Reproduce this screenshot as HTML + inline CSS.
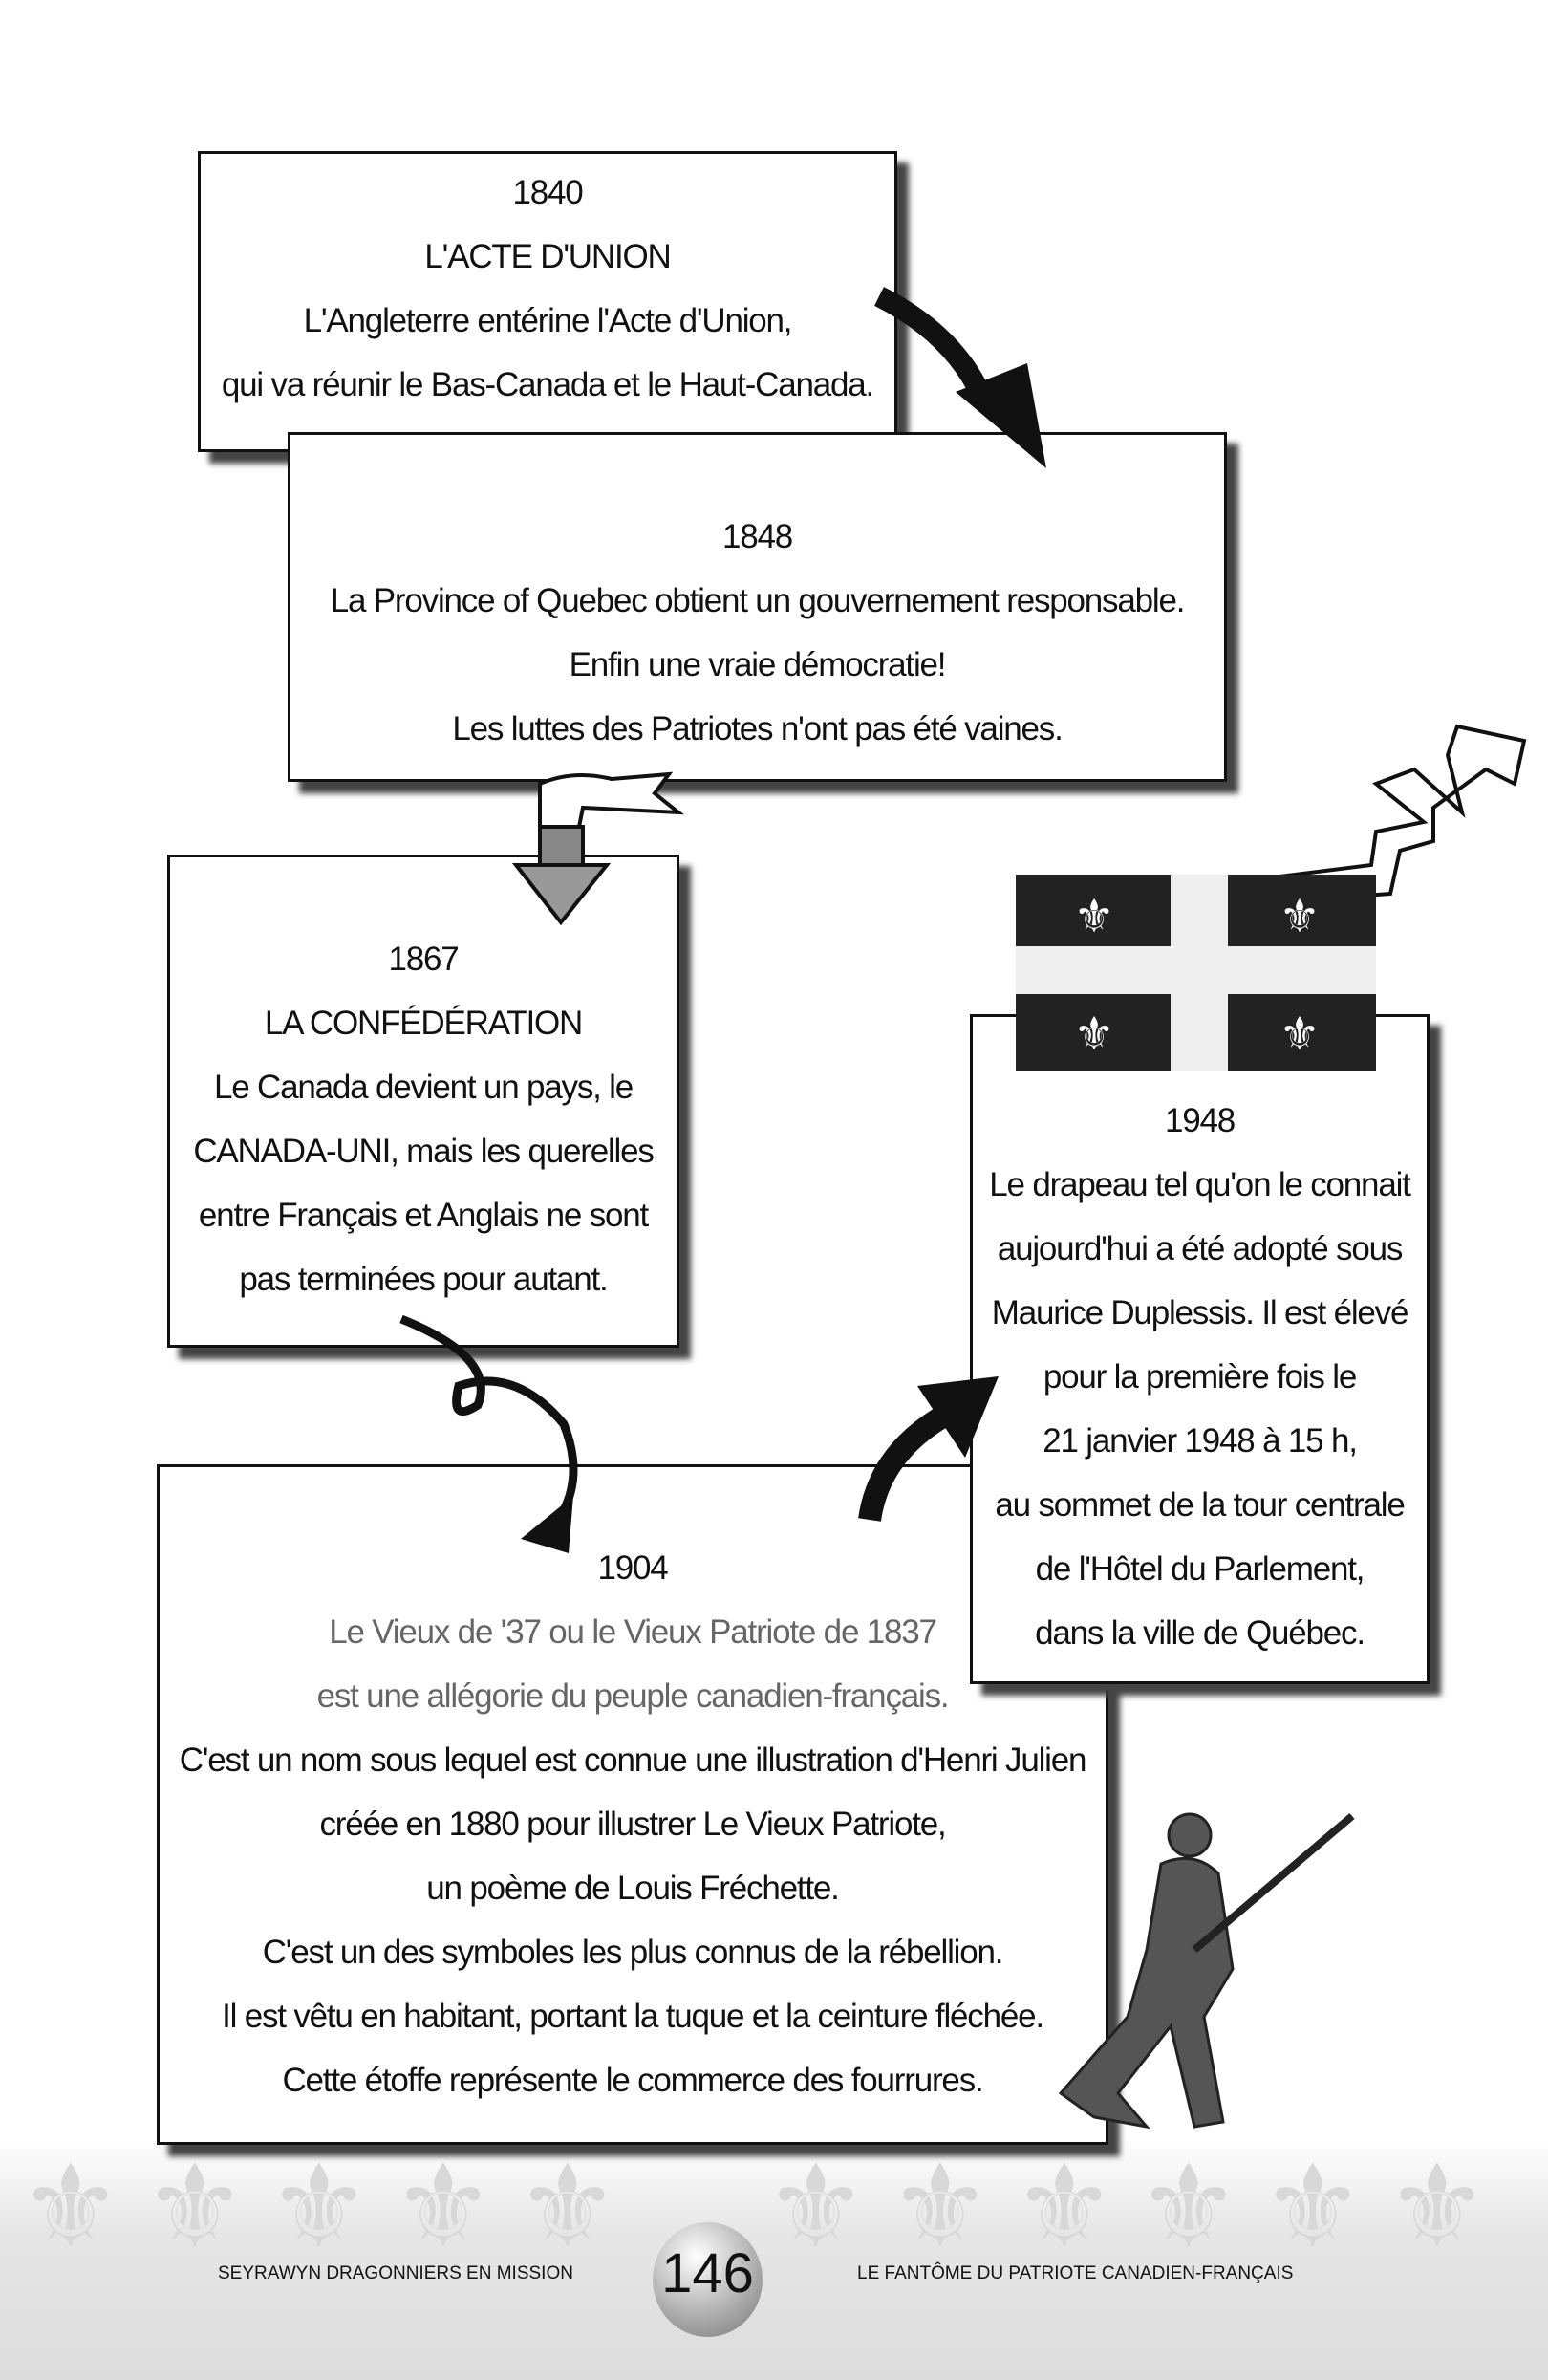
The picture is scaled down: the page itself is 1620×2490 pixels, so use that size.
<!DOCTYPE html>
<html><head><meta charset="utf-8"><style>
body{margin:0;width:1620px;height:2490px;background:#fff;position:relative;overflow:hidden;font-family:"Liberation Sans","DejaVu Sans",sans-serif;}
.box{position:absolute;background:#fff;border:3px solid #111;box-shadow:12px 12px 6px #444;text-align:center;color:#111;font-size:35px;line-height:67px;letter-spacing:-1.2px;box-sizing:border-box;}
.box div{white-space:nowrap}
.g{color:#666}
.foot{position:absolute;left:0;top:2235px;width:1620px;height:255px;background:linear-gradient(#fff,#e6e6e6 40%,#dcdcdc);}
.fl{position:absolute;top:2240px;font-size:120px;color:#d8d8d8;font-family:"DejaVu Sans",sans-serif;}
</style></head><body>
<div class="foot"></div>
<div class="fl" style="left:20px">⚜</div><div class="fl" style="left:150px">⚜</div><div class="fl" style="left:280px">⚜</div><div class="fl" style="left:410px">⚜</div><div class="fl" style="left:540px">⚜</div><div class="fl" style="left:800px">⚜</div><div class="fl" style="left:930px">⚜</div><div class="fl" style="left:1060px">⚜</div><div class="fl" style="left:1190px">⚜</div><div class="fl" style="left:1320px">⚜</div><div class="fl" style="left:1450px">⚜</div>
<div style="position:absolute;left:228px;top:2368px;font-size:19px;color:#111">SEYRAWYN DRAGONNIERS EN MISSION</div>
<div style="position:absolute;left:897px;top:2368px;font-size:19px;color:#111">LE FANTÔME DU PATRIOTE CANADIEN-FRANÇAIS</div>
<div style="position:absolute;left:683px;top:2325px;width:115px;height:120px;border-radius:50%;background:radial-gradient(circle at 40% 30%,#fff,#aaa 60%,#777);"></div>
<div style="position:absolute;left:683px;top:2345px;width:115px;text-align:center;font-size:58px;color:#111">146</div>

<div class="box" style="left:207px;top:158px;width:732px;height:315px;padding-top:7px">
<div>1840</div><div>L'ACTE D'UNION</div><div>L'Angleterre entérine l'Acte d'Union,</div><div>qui va réunir le Bas-Canada et le Haut-Canada.</div></div>
<div class="box" style="left:301px;top:452px;width:983px;height:366px;padding-top:73px">
<div>1848</div><div>La Province of Quebec obtient un gouvernement responsable.</div><div>Enfin une vraie démocratie!</div><div>Les luttes des Patriotes n'ont pas été vaines.</div></div>
<div class="box" style="left:175px;top:894px;width:536px;height:516px;padding-top:73px">
<div>1867</div><div>LA CONFÉDÉRATION</div><div>Le Canada devient un pays, le</div><div>CANADA-UNI, mais les querelles</div><div>entre Français et Anglais ne sont</div><div>pas terminées pour autant.</div></div>
<div class="box" style="left:164px;top:1532px;width:996px;height:712px;padding-top:72px">
<div>1904</div><div class="g">Le Vieux de '37 ou le Vieux Patriote de 1837</div><div class="g">est une allégorie du peuple canadien-français.</div><div>C'est un nom sous lequel est connue une illustration d'Henri Julien</div><div>créée en 1880 pour illustrer Le Vieux Patriote,</div><div>un poème de Louis Fréchette.</div><div>C'est un  des symboles les plus connus de la rébellion.</div><div>Il est vêtu en habitant, portant la tuque et la ceinture fléchée.</div><div>Cette étoffe représente le commerce des fourrures.</div></div>
<div class="box" style="left:1015px;top:1061px;width:481px;height:701px;padding-top:75px">
<div>1948</div><div>Le drapeau tel qu'on le connait</div><div>aujourd'hui a été adopté sous</div><div>Maurice Duplessis. Il est élevé</div><div>pour la première fois le</div><div>21 janvier 1948 à 15 h,</div><div>au sommet de la tour centrale</div><div>de l'Hôtel du Parlement,</div><div>dans la ville de Québec.</div></div>

<svg style="position:absolute;left:0;top:0" width="1620" height="2490">
<path d="M920 310 Q1000 350 1030 420" stroke="#111" stroke-width="22" fill="none"/>
<polygon points="1000,410 1095,490 1075,380" fill="#111"/>
<path d="M565 870 L565 820 Q600 805 640 815 L700 810 L685 830 L710 850 L610 845 L605 870 Z" fill="#fff" stroke="#111" stroke-width="4"/>
<rect x="565" y="865" width="45" height="45" fill="#888" stroke="#111" stroke-width="4"/>
<polygon points="540,905 635,905 587,965" fill="#999" stroke="#111" stroke-width="4"/>
<path d="M420 1380 Q520 1420 500 1470 Q470 1490 480 1450 Q540 1430 590 1490 Q610 1540 590 1580" stroke="#111" stroke-width="9" fill="none"/>
<polygon points="545,1610 600,1565 595,1625" fill="#111"/>
<path d="M910 1590 Q920 1520 990 1480" stroke="#111" stroke-width="24" fill="none"/>
<polygon points="960,1450 1045,1440 1010,1525" fill="#111"/>
<path d="M1315 920 L1435 905 L1440 870 L1490 860 L1440 820 L1480 805 L1530 850 L1515 790 L1525 760 L1595 775 L1585 820 L1555 805 L1500 845 L1500 880 L1465 890 L1455 935 L1320 945 Z" fill="#fff" stroke="#111" stroke-width="4"/>
<rect x="1063" y="915" width="377" height="205" fill="#222"/>
<rect x="1063" y="990" width="377" height="50" fill="#eee"/>
<rect x="1225" y="915" width="60" height="205" fill="#eee"/>
<text x="1145" y="975" font-size="48" fill="#fff" text-anchor="middle" font-family="DejaVu Sans">⚜</text>
<text x="1360" y="975" font-size="48" fill="#fff" text-anchor="middle" font-family="DejaVu Sans">⚜</text>
<text x="1145" y="1098" font-size="48" fill="#fff" text-anchor="middle" font-family="DejaVu Sans">⚜</text>
<text x="1360" y="1098" font-size="48" fill="#fff" text-anchor="middle" font-family="DejaVu Sans">⚜</text>
<g fill="#555" stroke="#222" stroke-width="3">
<circle cx="1245" cy="1920" r="22"/>
<path d="M1215 1950 Q1250 1935 1275 1960 L1290 2060 L1260 2110 L1280 2220 L1250 2225 L1225 2120 L1170 2190 L1200 2225 L1145 2215 L1110 2190 L1180 2110 L1200 2040 Z"/>
<line x1="1250" y1="2040" x2="1415" y2="1900" stroke-width="8"/>
</g>
</svg>
</body></html>
